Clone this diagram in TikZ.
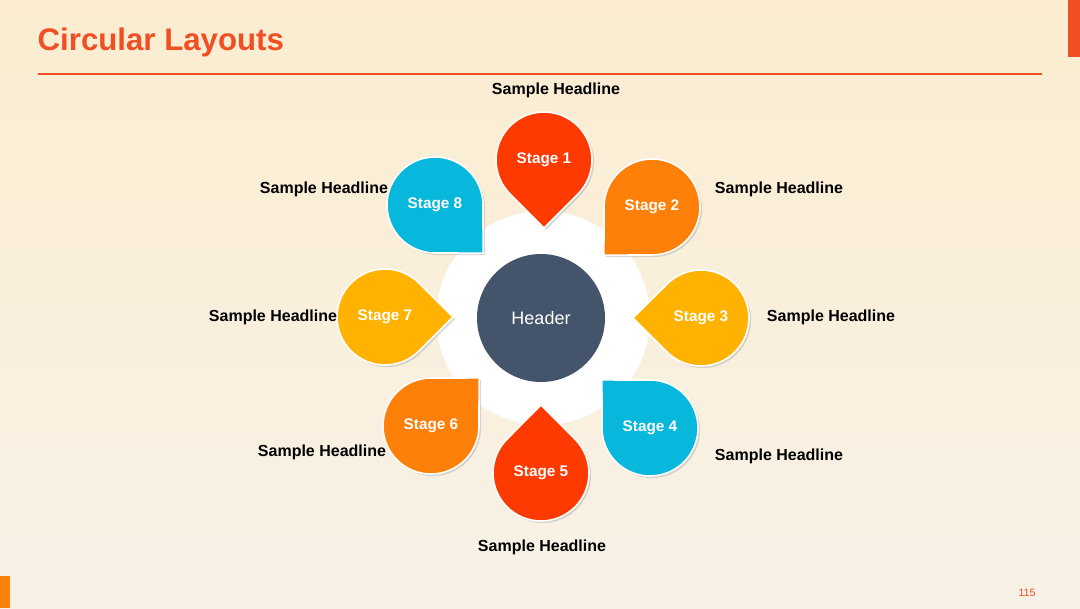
\documentclass[tikz,border=0pt]{standalone}
\usepackage{fontspec}
\setmainfont{Liberation Sans}
\usetikzlibrary{calc,shadows}
\definecolor{cred}{HTML}{FF3A00}
\definecolor{corange}{HTML}{FF8008}
\definecolor{cyellow}{HTML}{FFB300}
\definecolor{ccyan}{HTML}{07B7DC}
\definecolor{cnavy}{HTML}{44546A}
\definecolor{ctitle}{HTML}{F04E23}
\definecolor{cbgA}{HTML}{FDEBC8}
\definecolor{cbgB}{HTML}{F6F3EF}
\tikzset{
  headline/.style={font=\bfseries\fontsize{12}{14}\selectfont, text=black},
  stagetxt/.style={font=\bfseries\fontsize{11.5}{13}\selectfont, text=white},
}
\newcommand{\dropshape}[5]{%
  \coordinate (#5) at (#1);
  \fill[black!30, opacity=0.5] ($(#5)+(2,2)+(#2:68)$) -- ($(#5)+(2,2)+(#2+45:48)$) arc[start angle=#2+45, end angle=#2+315, radius=48] -- cycle;
  \filldraw[fill=#3, draw=white, line width=1.2pt] ($(#5)+(#2:68)$) -- ($(#5)+(#2+45:48)$) arc[start angle=#2+45, end angle=#2+315, radius=48] -- cycle;
  \node[stagetxt] (#5t) at (#5) {#4};
}
\begin{document}
\begin{tikzpicture}[x=0.75pt,y=-0.75pt]
\useasboundingbox (0,0) rectangle (1080,608);
\shade[shading angle=160, top color=cbgA, bottom color=cbgB] (-200,-200) rectangle (1280,808);
\fill[ctitle] (1068,0) rectangle (1080,57);
\fill[corange] (0,576) rectangle (10,608);
\node[anchor=west, font=\bfseries\fontsize{23.4}{26}\selectfont, text=ctitle] (title) at (33,42) {Circular Layouts};
\coordinate (l1) at (38,74); \coordinate (l2) at (1042,74);
\draw[ctitle, line width=0.8pt] (l1) -- (l2);
\node[font=\fontsize{8}{9}\selectfont, text=ctitle] (pg) at (1027,593) {115};
\fill[white] (543,318) circle[radius=107];
\dropshape{544,160}{90}{cred}{Stage 1}{s1}
\dropshape{652,207}{135}{corange}{Stage 2}{s2}
\dropshape{701,318}{180}{cyellow}{Stage 3}{s3}
\dropshape{650,428}{225}{ccyan}{Stage 4}{s4}
\dropshape{541,473}{270}{cred}{Stage 5}{s5}
\dropshape{431,426}{315}{corange}{Stage 6}{s6}
\dropshape{385,317}{0}{cyellow}{Stage 7}{s7}
\dropshape{435,205}{45}{ccyan}{Stage 8}{s8}
\node[circle, fill=cnavy, minimum size=96pt, inner sep=0, text=white, font=\fontsize{13.5}{15}\selectfont] (hdr) at (541,318) {Header};
\node[headline] (h1) at (556,90) {Sample Headline};
\node[headline] (h2) at (779,189) {Sample Headline};
\node[headline] (h3) at (831,317) {Sample Headline};
\node[headline] (h4) at (779,456) {Sample Headline};
\node[headline] (h5) at (542,547) {Sample Headline};
\node[headline] (h6) at (322,452) {Sample Headline};
\node[headline] (h7) at (273,317) {Sample Headline};
\node[headline] (h8) at (324,189) {Sample Headline};
\end{tikzpicture}
\end{document}
